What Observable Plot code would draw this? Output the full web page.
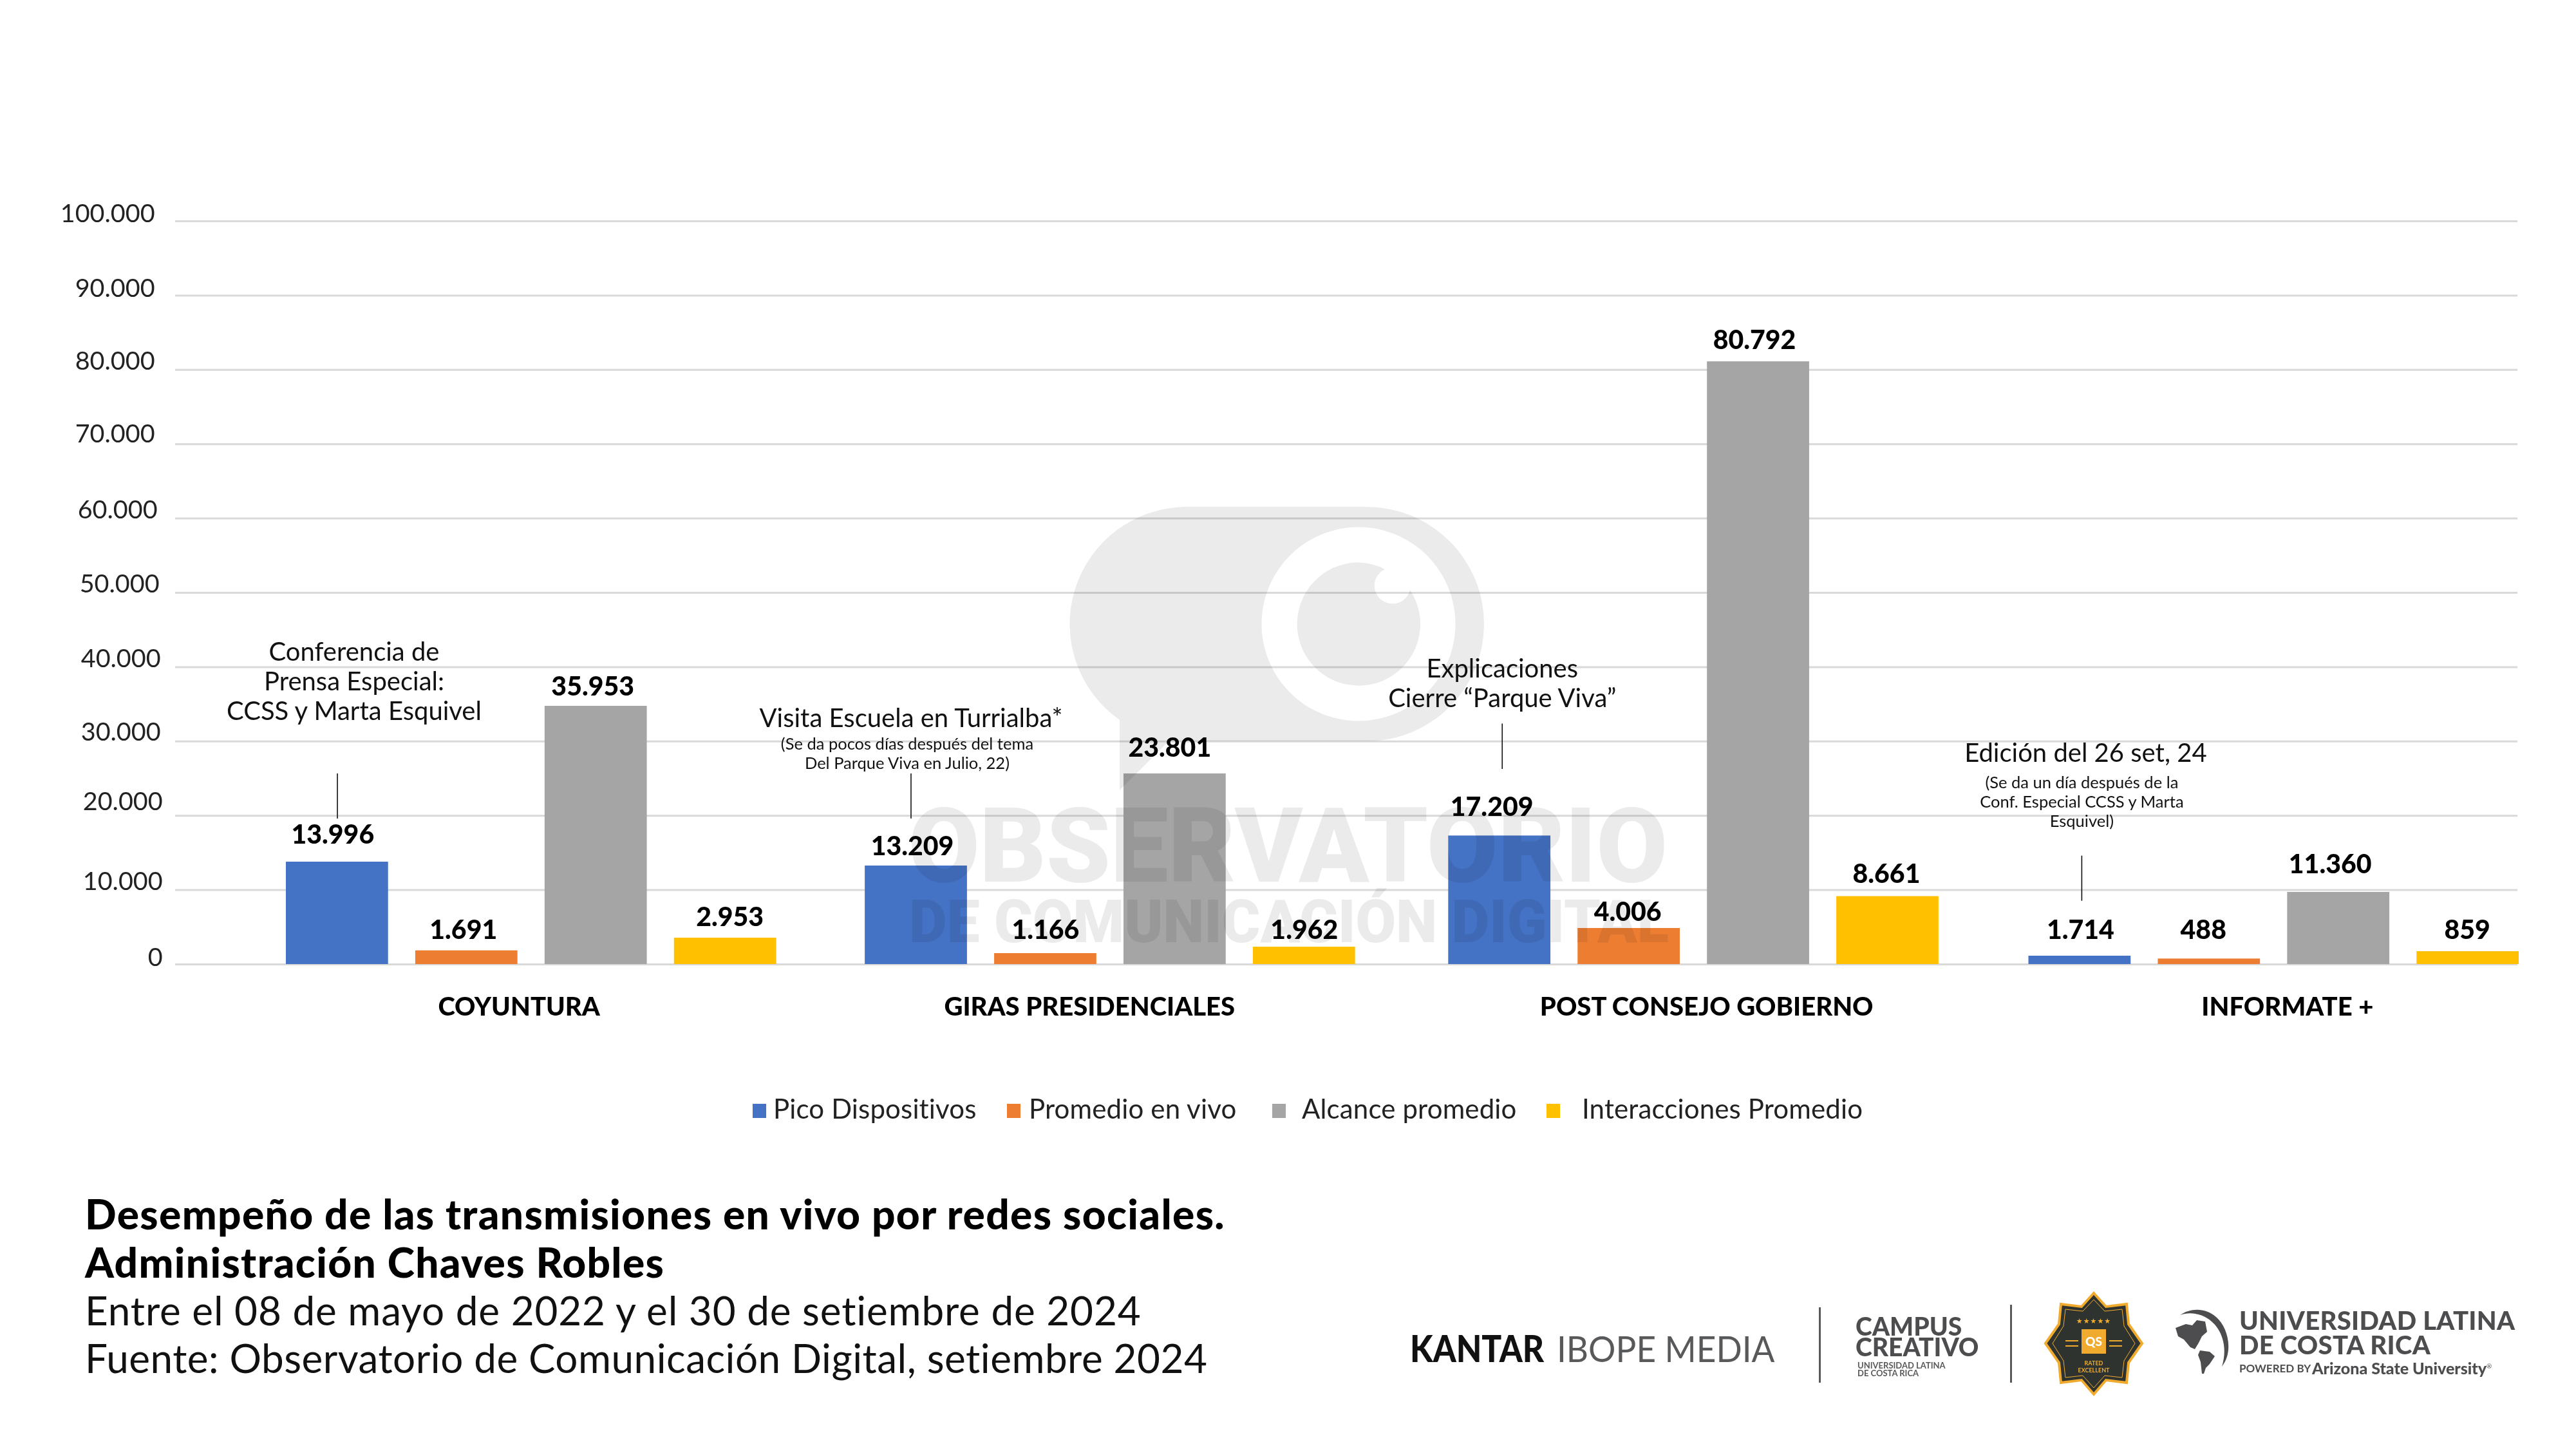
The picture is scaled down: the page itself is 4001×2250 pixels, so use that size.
<!DOCTYPE html>
<html lang="es">
<head>
<meta charset="utf-8">
<title>Desempeño de las transmisiones en vivo por redes sociales</title>
<script src="https://cdn.jsdelivr.net/npm/d3@7"></script>
<script src="https://cdn.jsdelivr.net/npm/@observablehq/plot@0.6"></script>
<style>
  html, body { margin: 0; padding: 0; background: #fff; }
  #page { position: relative; width: 4001px; height: 2250px; overflow: hidden; font-family: Lato, sans-serif; color: #111; }
  #chart { position: absolute; left: 0; top: 0; }
  #chart svg { max-width: none; display: block; }
  .abs { position: absolute; white-space: nowrap; line-height: 1; }
  .cap { left: 132px; font-size: 62px; }
  .cap.b { font-size: 64px; font-weight: 900; color: #000; letter-spacing: 1.35px; }
  .swatch { position: absolute; width: 21px; height: 22px; top: 1714px; }
  .legend { top: 1700px; font-size: 42px; color: #222; letter-spacing: .15px; }
  .logo { color: #58595b; }
  .squeeze { transform-origin: left center; }
  #overlay { position: absolute; left: 0; top: 0; pointer-events: none; mix-blend-mode: multiply; }
</style>
</head>
<body>
<div id="page">
  <div id="chart"></div>
  <svg id="overlay" width="4001" height="2250" viewBox="0 0 4001 2250" aria-hidden="true">
    <g fill="#ebebeb">
      <path fill-rule="evenodd" d="M1842,787 H2122 A183,182 0 0 1 2122,1151 H1815 L1739,1227 V1118 A182,182 0 0 1 1842,787 Z M2110,818.5 a150.5,150.5 0 1 0 .01,0 Z"/>
      <path d="M2110,873.3 A95.7,95.7 0 0 1 2151,884 A28,28 0 1 0 2190,916 A95.7,95.7 0 1 1 2110,873.3 Z"/>
      <text x="1411" y="1369" font-family="Roboto" font-weight="900" font-size="161" textLength="1179" lengthAdjust="spacingAndGlyphs">OBSERVATORIO</text>
      <text x="1412" y="1463" font-family="Roboto" font-weight="900" font-size="92" textLength="1180" lengthAdjust="spacingAndGlyphs">DE COMUNICACIÓN DIGITAL</text>
    </g>
  </svg>

  <div class="abs cap b" style="top:1853px">Desempeño de las transmisiones en vivo por redes sociales.</div>
  <div class="abs cap b" style="top:1928px">Administración Chaves Robles</div>
  <div class="abs cap" style="top:2003px;letter-spacing:.85px">Entre el 08 de mayo de 2022 y el 30 de setiembre de 2024</div>
  <div class="abs cap" style="top:2077px;letter-spacing:.5px">Fuente: Observatorio de Comunicación Digital, setiembre 2024</div>

  <div class="abs squeeze" style="left:2190px;top:2065px;font-size:57px;font-weight:900;color:#111;transform:scaleX(.9)">KANTAR</div>
  <div class="abs logo squeeze" style="left:2418px;top:2065px;font-size:57px;font-weight:400;transform:scaleX(.93)">IBOPE MEDIA</div>
  <div class="abs" style="left:2825px;top:2030px;width:3px;height:117px;background:#58595b"></div>
  <div class="abs" style="left:3122px;top:2026px;width:3px;height:121px;background:#58595b"></div>
  <div class="abs logo" style="left:2882px;top:2040px;font-size:39px;font-weight:900;color:#4d4d4f">CAMPUS</div>
  <div class="abs logo" style="left:2882px;top:2072px;font-size:39px;font-weight:900;color:#4d4d4f">CREATIVO</div>
  <div class="abs logo" style="left:2885px;top:2114px;font-size:13px;font-weight:700">UNIVERSIDAD LATINA</div>
  <div class="abs logo" style="left:2885px;top:2126px;font-size:13px;font-weight:700">DE COSTA RICA</div>

  <svg class="abs" style="left:3170px;top:2000px" width="170" height="172" viewBox="3170 2000 170 172" aria-label="QS Rated Excellent">
    <polygon fill="#2e3330" stroke="#f0ab2e" stroke-width="4" points="3252,2008 3271,2029 3303,2025 3306,2056 3327,2086 3306,2116 3303,2147 3271,2143 3252,2165 3233,2143 3201,2147 3198,2116 3177,2086 3198,2056 3201,2025 3233,2029"/>
    <polygon fill="none" stroke="#f0ab2e" stroke-width="1" points="3252,2018 3269,2036 3296,2033 3299,2059 3316,2086 3299,2113 3296,2139 3269,2136 3252,2155 3235,2136 3208,2139 3205,2113 3188,2086 3205,2059 3208,2033 3235,2036"/>
    <rect x="3233" y="2064" width="38" height="38" fill="#f0ab2e"/>
    <text x="3252" y="2090" text-anchor="middle" font-family="Lato" font-weight="900" font-size="19" fill="#fff">QS</text>
    <text x="3252" y="2055" text-anchor="middle" font-family="DejaVu Sans" font-size="11" fill="#f0ab2e" letter-spacing="1">★★★★★</text>
    <text x="3252" y="2120" text-anchor="middle" font-family="Lato" font-weight="700" font-size="9" fill="#f0ab2e">RATED</text>
    <text x="3252" y="2131" text-anchor="middle" font-family="Lato" font-weight="700" font-size="9" fill="#f0ab2e">EXCELLENT</text>
    <path stroke="#f0ab2e" stroke-width="2" d="M3208,2082H3228M3276,2082H3296M3208,2090H3228M3276,2090H3296"/>
  </svg>

  <svg class="abs" style="left:3375px;top:2030px" width="92" height="106" viewBox="3375 2030 92 106" aria-hidden="true">
    <path fill="#4d4d4f" d="M3386,2042 C3402,2031 3425,2030 3442,2045 C3460,2060 3470,2098 3451,2122 C3458,2100 3455,2078 3444,2062 C3432,2044 3408,2034 3386,2042 Z"/>
    <path fill="#4d4d4f" d="M3379,2062 L3395,2056 L3405,2058 L3412,2050 L3425,2052 L3428,2068 L3420,2075 L3415,2085 L3409,2095 L3402,2092 L3392,2080 L3383,2075 Z"/>
    <path fill="#4d4d4f" d="M3417,2097 L3432,2099 L3440,2106 L3432,2118 L3426,2124 L3423,2133 L3420,2133 L3418,2115 L3414,2104 Z"/>
  </svg>
  <div class="abs logo" style="left:3478px;top:2030px;font-size:40px;font-weight:900;color:#4d4d4f;letter-spacing:.3px">UNIVERSIDAD LATINA</div>
  <div class="abs logo" style="left:3478px;top:2068px;font-size:40px;font-weight:900;color:#4d4d4f;letter-spacing:.3px">DE COSTA RICA</div>
  <div class="abs logo" style="left:3478px;top:2116px;font-size:17px;font-weight:700;color:#4d4d4f">POWERED BY</div>
  <div class="abs logo" style="left:3591px;top:2112px;font-size:25px;font-weight:900;color:#4d4d4f">Arizona State University<sup style="font-size:10px;font-weight:400">®</sup></div>
</div>

<script>
// ---- chart data ----
const categories = ["COYUNTURA", "GIRAS PRESIDENCIALES", "POST CONSEJO GOBIERNO", "INFORMATE +"];
const seriesNames = ["Pico Dispositivos", "Promedio en vivo", "Alcance promedio", "Interacciones Promedio"];
const seriesColors = ["#4472C4", "#ED7D31", "#A5A5A5", "#FFC000"];

// Bar heights as drawn in the picture (they do not always agree with the printed figure).
const picoBars = [13778, 13258, 17296, 1127];
const promedioBars = [1846, 1473, 4853, 745];
const alcanceBars = [34749, 25650, 81100, 9705];
const interaccionesBars = [3553, 2340, 9142, 1733];

// Figures printed above the bars.
const picoLabels = ["13.996", "13.209", "17.209", "1.714"];
const promedioLabels = ["1.691", "1.166", "4.006", "488"];
const alcanceLabels = ["35.953", "23.801", "80.792", "11.360"];
const interaccionesLabels = ["2.953", "1.962", "8.661", "859"];

const yTicks = [0, 10000, 20000, 30000, 40000, 50000, 60000, 70000, 80000, 90000, 100000];
const yTickLabels = ["0", "10.000", "20.000", "30.000", "40.000", "50.000", "60.000", "70.000", "80.000", "90.000", "100.000"];

// ---- placement on the chart's own scales (x in bar-slot units, y in audience units) ----
const groupStarts = [0, 4.475, 8.985, 13.47];
const barSpan = 0.79;
const categoryCenters = [1.80, 6.21, 10.98, 15.47];
const labelX = [[0.36, 4.84, 9.32, 13.87], [1.37, 5.87, 10.37, 14.82], [2.37, 6.83, 11.35, 15.80], [3.43, 7.87, 12.37, 16.86]];
const labelY = [[17418, 15858, 21144, 4593], [4593, 4593, 7019, 4593], [37296, 29116, 83969, 13432], [6326, 4593, 12088, 4593]];
const tickLabelX = [-0.955, -0.955, -0.955, -0.97, -0.97, -0.98, -0.995, -1.015, -1.015, -1.015, -1.015];
const tickLabelY = [867, 11092, 21837, 31196, 41101, 51170, 61092, 71317, 81109, 90922, 101005];

const notes = [
  {text: "Conferencia de\nPrensa Especial:\nCCSS y Marta Esquivel", x: 0.525, y: 38150},
  {text: "Visita Escuela en Turrialba*", x: 4.83, y: 33250},
  {text: "Explicaciones\nCierre “Parque Viva”", x: 9.4, y: 37900},
  {text: "Edición del 26 set, 24", x: 13.91, y: 28570}
];
const subNotes = [
  {text: "(Se da pocos días después del tema\nDel Parque Viva en Julio, 22)", x: 4.80, y: 28423},
  {text: "(Se da un día después de la\nConf. Especial CCSS y Marta\nEsquivel)", x: 13.88, y: 21924}
];
const leaders = [
  {x: 0.396, y1: 25650, y2: 19584},
  {x: 4.83, y1: 25650, y2: 19584},
  {x: 9.4, y1: 32365, y2: 26256},
  {x: 13.88, y1: 14593, y2: 8518}
];

const barValues = [picoBars, promedioBars, alcanceBars, interaccionesBars];
const barLabels = [picoLabels, promedioLabels, alcanceLabels, interaccionesLabels];

const bars = categories.flatMap((category, g) => seriesNames.map((series, s) => ({
  category, series,
  x1: groupStarts[g] + s,
  x2: groupStarts[g] + s + barSpan,
  value: barValues[s][g]
})));
const printed = categories.flatMap((category, g) => seriesNames.map((series, s) => ({
  text: barLabels[s][g], x: labelX[s][g], y: labelY[s][g]
})));
const tickText = yTicks.map((t, i) => ({text: yTickLabels[i], x: tickLabelX[i], y: tickLabelY[i]}));
const categoryText = categories.map((c, i) => ({text: c, x: categoryCenters[i]}));

const font = "Lato, sans-serif";
const chart = Plot.plot({
  width: 4001,
  height: 1640,
  marginLeft: 272,
  marginRight: 91,
  marginTop: 343,
  marginBottom: 143,
  style: {fontFamily: font, background: "transparent", overflow: "visible"},
  x: {domain: [-0.856, 17.25], axis: null},
  y: {domain: [0, 100000], axis: null},
  color: {domain: seriesNames, range: seriesColors},
  marks: [
    Plot.ruleY(yTicks, {stroke: "#d9d9d9", strokeWidth: 3}),
    Plot.rectY(bars, {x1: "x1", x2: "x2", y: "value", fill: "series"}),
    Plot.ruleX(leaders, {x: "x", y1: "y1", y2: "y2", stroke: "#111", strokeWidth: 1.6}),
    Plot.text(tickText, {x: "x", y: "y", text: "text", textAnchor: "end", fontSize: 39.5, fill: "#222"}),
    Plot.text(printed, {x: "x", y: "y", text: "text", fontSize: 41, fontWeight: 900, fill: "#000"}),
    Plot.text(categoryText, {x: "x", y: () => 0, text: "text", dy: 67, fontSize: 40, fontWeight: 900, fill: "#000"}),
    Plot.text(notes, {x: "x", y: "y", text: "text", fontSize: 40, lineHeight: 1.15, fill: "#111"}),
    Plot.text(subNotes, {x: "x", y: "y", text: "text", fontSize: 25.5, lineHeight: 1.16, fill: "#111"})
  ]
});
document.getElementById("chart").appendChild(chart);

// ---- legend, added below the chart ----
const legendSwatchLeft = [1169, 1564, 1976, 2402];
const legendTextLeft = [1201, 1598, 2022, 2457];
const page = document.getElementById("page");
seriesNames.forEach((name, i) => {
  const sw = document.createElement("div");
  sw.className = "swatch";
  sw.style.left = legendSwatchLeft[i] + "px";
  sw.style.background = seriesColors[i];
  page.appendChild(sw);
  const t = document.createElement("div");
  t.className = "abs legend";
  t.style.left = legendTextLeft[i] + "px";
  t.textContent = name;
  page.appendChild(t);
});
</script>
</body>
</html>
